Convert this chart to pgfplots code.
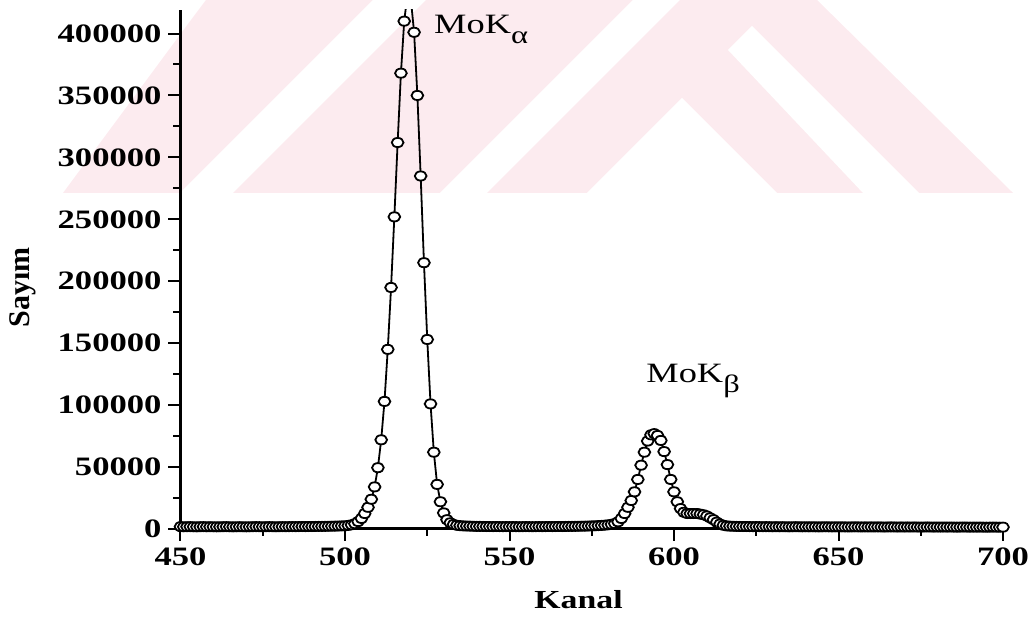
\documentclass[border=0pt]{standalone}
\usepackage{fontspec}
\setmainfont{Liberation Serif}[FakeStretch=1.3]
\newfontfamily\plainserif{Liberation Serif}
\usepackage{pgfplots}
\pgfplotsset{compat=1.18}
\definecolor{wm}{RGB}{252,235,239}
\begin{document}
\begin{tikzpicture}
\useasboundingbox (0,0) rectangle (516pt,315pt);
\begin{scope}[x=0.5pt,y=-0.5pt,shift={(0pt,315pt)}]
\fill[wm] (63,193) -- (185,28) -- (206,0) -- (817,0) -- (1013,193) -- cycle;
\fill[white] (587,193) -- (682,98) -- (777,193) -- cycle;
\fill[white] (728,50) -- (752,26) -- (919,193) -- (863,193) -- cycle;
\fill[white] (440,193) -- (487,193) -- (680,0) -- (633,0) -- cycle;
\fill[white] (180,193) -- (233,193) -- (426,0) -- (373,0) -- cycle;
\end{scope}
\begin{axis}[
  at={(90.25pt,50.5pt)}, anchor=south west,
  scale only axis, width=411.25pt, height=259.5pt,
  xmin=450, xmax=700, ymin=0, ymax=419000,
  axis x line*=bottom, axis y line*=left,
  axis line style={-, line width=1.5pt, black},
  xtick={450,500,550,600,650,700}, minor x tick num=1,
  ytick={0,50000,100000,150000,200000,250000,300000,350000,400000}, minor y tick num=1,
  tick align=outside, major tick length=6pt, minor tick length=3.5pt,
  every tick/.style={line width=1pt, black},
  scaled y ticks=false,
  /pgf/number format/assume math mode=true,
  yticklabel style={/pgf/number format/fixed, /pgf/number format/1000 sep={}},
  ticklabel style={font=\fontsize{13.3}{16}\selectfont\bfseries},
  xlabel={Kanal}, ylabel={Sayım},
  xlabel style={at={(axis description cs:0.484,-0.1368)}, anchor=center, font=\fontsize{13}{16}\selectfont\bfseries},
  ylabel style={at={(axis description cs:-0.192,0.466)}, anchor=center, font=\plainserif\fontsize{15}{17}\selectfont\bfseries},
]
\addplot[black, line width=0.9pt, mark=*, mark size=2.55pt, mark options={fill=white, draw=black, line width=0.9pt, xscale=1.15, yscale=0.9}] coordinates {
(450,1900) (451,1800) (452,1850) (453,1900) (454,1800) (455,1750) (456,1850) (457,1900) (458,1800) (459,1850)
(460,1800) (461,1750) (462,1800) (463,1850) (464,1900) (465,1800) (466,1750) (467,1800) (468,1850) (469,1800)
(470,1750) (471,1800) (472,1850) (473,1900) (474,1850) (475,1800) (476,1850) (477,1900) (478,1850) (479,1800)
(480,1850) (481,1900) (482,1850) (483,1900) (484,1950) (485,1900) (486,1950) (487,2000) (488,1950) (489,2000)
(490,2000) (491,2050) (492,2100) (493,2100) (494,2150) (495,2200) (496,2250) (497,2300) (498,2400) (499,2500)
(500,2600) (501,2900) (502,3400) (503,4300) (504,6000) (505,8500) (506,12500) (507,17500) (508,24000) (509,34000)
(510,49500) (511,72000) (512,103000) (513,145000) (514,195000) (515,252000) (516,312000) (517,368000) (518,410000) (519,432000)
(520,428000) (521,401000) (522,350000) (523,285000) (524,215000) (525,153000) (526,101000) (527,62000) (528,36000) (529,22000)
(530,13000) (531,7500) (532,5000) (533,3700) (534,3000) (535,2700) (536,2500) (537,2400) (538,2300) (539,2200)
(540,2100) (541,2100) (542,2050) (543,2000) (544,2000) (545,1950) (546,2000) (547,1950) (548,1900) (549,1950)
(550,1900) (551,1950) (552,1900) (553,1850) (554,1900) (555,1950) (556,1900) (557,1850) (558,1900) (559,1950)
(560,1900) (561,1950) (562,2000) (563,1950) (564,2000) (565,2050) (566,2000) (567,2050) (568,2100) (569,2100)
(570,2150) (571,2200) (572,2250) (573,2300) (574,2400) (575,2500) (576,2600) (577,2750) (578,2900) (579,3100)
(580,3400) (581,3800) (582,4400) (583,5800) (584,8500) (585,12500) (586,17500) (587,23000) (588,30000) (589,40000)
(590,51500) (591,62000) (592,71000) (593,76000) (594,77000) (595,75500) (596,71500) (597,62500) (598,52000) (599,40000)
(600,30000) (601,22000) (602,16500) (603,13500) (604,12500) (605,12500) (606,12500) (607,12500) (608,12000) (609,11500)
(610,10500) (611,9000) (612,7500) (613,5500) (614,4000) (615,3000) (616,2500) (617,2300) (618,2200) (619,2100)
(620,2050) (621,2000) (622,2000) (623,1950) (624,1900) (625,1950) (626,1900) (627,1850) (628,1900) (629,1850)
(630,1800) (631,1850) (632,1800) (633,1850) (634,1800) (635,1750) (636,1800) (637,1850) (638,1800) (639,1750)
(640,1800) (641,1750) (642,1800) (643,1750) (644,1700) (645,1750) (646,1800) (647,1750) (648,1700) (649,1750)
(650,1700) (651,1750) (652,1700) (653,1650) (654,1700) (655,1750) (656,1700) (657,1650) (658,1700) (659,1650)
(660,1700) (661,1650) (662,1700) (663,1650) (664,1600) (665,1650) (666,1700) (667,1650) (668,1600) (669,1650)
(670,1600) (671,1650) (672,1600) (673,1650) (674,1600) (675,1550) (676,1600) (677,1650) (678,1600) (679,1550)
(680,1600) (681,1550) (682,1600) (683,1550) (684,1600) (685,1550) (686,1500) (687,1550) (688,1600) (689,1550)
(690,1500) (691,1550) (692,1500) (693,1550) (694,1500) (695,1450) (696,1500) (697,1550) (698,1500) (699,1450) (700,1500)
};
\node[anchor=base west, inner sep=0pt, font=\fontsize{14}{16}\selectfont] at (axis cs:527,400000) {MoK\raisebox{-5pt}{\fontsize{12.5}{14}\selectfont α}};
\node[anchor=base west, inner sep=0pt, font=\fontsize{14}{16}\selectfont] at (axis cs:591.5,118000) {MoK\raisebox{-5pt}{\fontsize{12.5}{14}\selectfont β}};
\end{axis}
\end{tikzpicture}
\end{document}
